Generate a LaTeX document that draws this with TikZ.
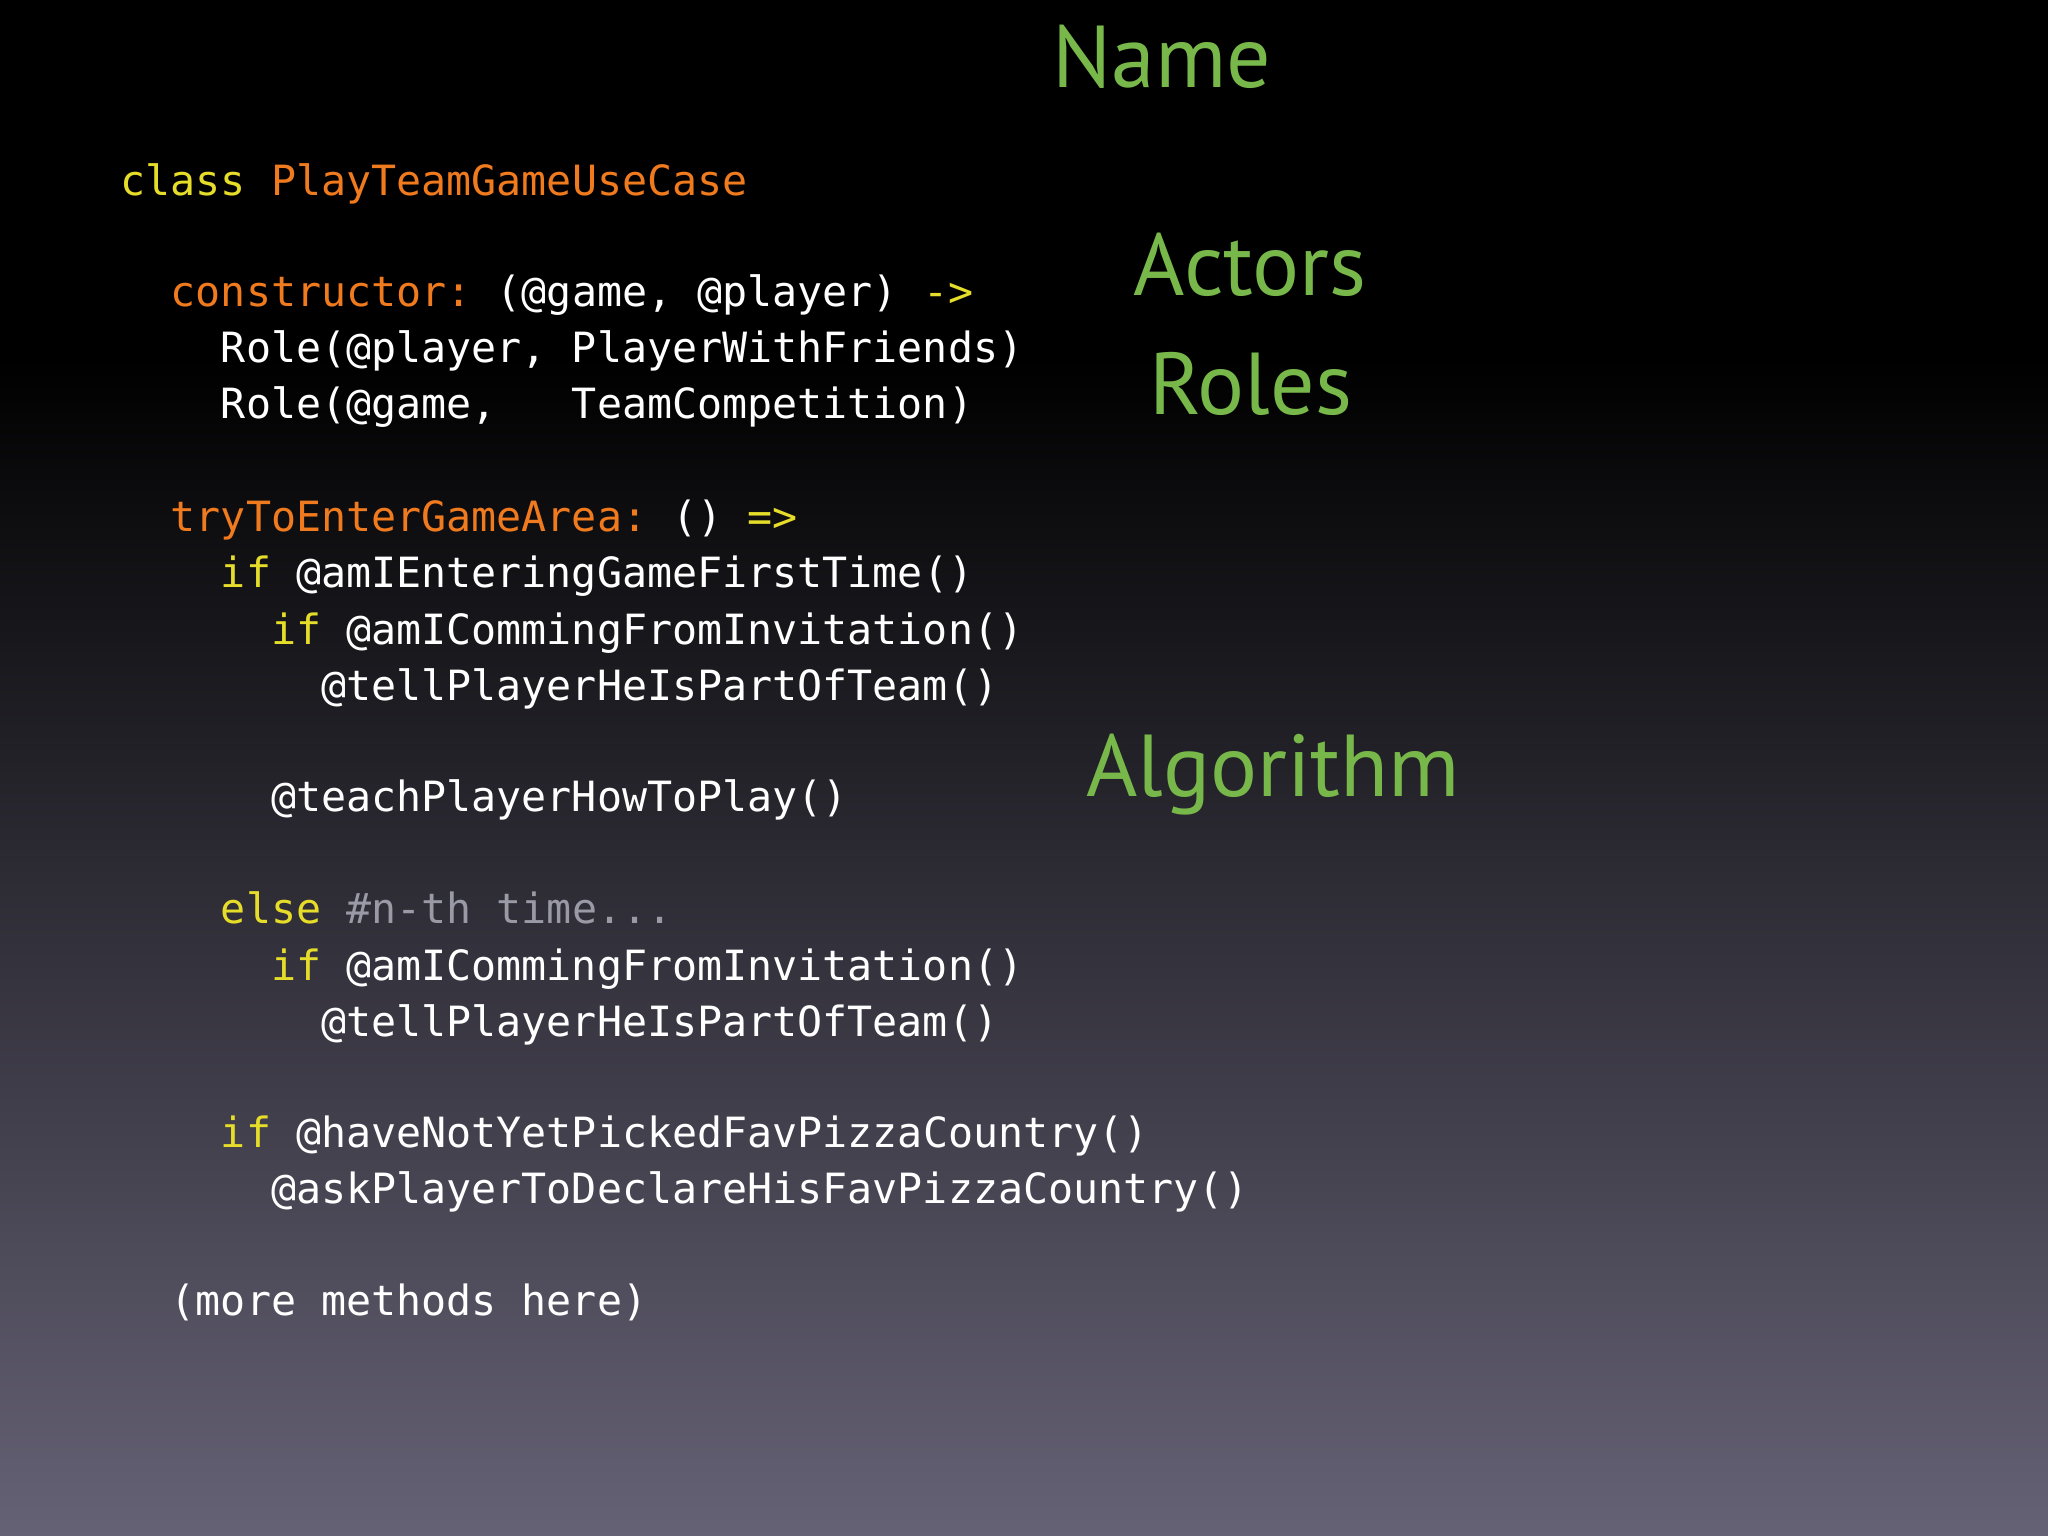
\documentclass[tikz,border=0pt]{standalone}
\usepackage{fontspec}
\setmonofont{DejaVu Sans Mono}
\newfontfamily\titlefont{PT Sans}
\definecolor{kw}{HTML}{E6DC2A}
\definecolor{org}{HTML}{F07A1E}
\definecolor{cm}{HTML}{9A9AA6}
\definecolor{grn}{HTML}{78B84A}
\definecolor{b0}{HTML}{666276}
\definecolor{b1}{HTML}{2E2F50}
\begin{document}
\begin{tikzpicture}[x=1cm,y=1cm,
  code/.style={anchor=base west,inner sep=0pt,text=white,font=\ttfamily\fontsize{11.85}{14}\selectfont},
  title/.style={anchor=base,inner sep=0pt,text=grn,font=\titlefont\fontsize{25}{30}\selectfont}]
\useasboundingbox (0,0) rectangle (20.48,-15.36);
\fill[black] (0,0.01) rectangle (20.48,-3.6);
\shade[top color=black, middle color=b1, bottom color=b0] (0,-3.59) rectangle (20.48,-15.37);
\def\c#1{1.2+#1*0.2507}
\node[code] (l1) at ({\c0},-1.96) {\textcolor{kw}{class} \textcolor{org}{PlayTeamGameUseCase}};
\node[code] (l2) at ({\c2},-3.07) {\textcolor{org}{constructor:} (@game, @player) \textcolor{kw}{->}};
\node[code] (l3) at ({\c4},-3.63) {Role(@player, PlayerWithFriends)};
\node[code] (l4) at ({\c4},-4.19) {Role(@game,~~~TeamCompetition)};
\node[code] (l5) at ({\c2},-5.32) {\textcolor{org}{tryToEnterGameArea:} () \textcolor{kw}{=>}};
\node[code] (l6) at ({\c4},-5.88) {\textcolor{kw}{if} @amIEnteringGameFirstTime()};
\node[code] (l7) at ({\c6},-6.44) {\textcolor{kw}{if} @amICommingFromInvitation()};
\node[code] (l8) at ({\c8},-7.00) {@tellPlayerHeIsPartOfTeam()};
\node[code] (l9) at ({\c6},-8.11) {@teachPlayerHowToPlay()};
\node[code] (l10) at ({\c4},-9.23) {\textcolor{kw}{else} \textcolor{cm}{\#n-th time...}};
\node[code] (l11) at ({\c6},-9.80) {\textcolor{kw}{if} @amICommingFromInvitation()};
\node[code] (l12) at ({\c8},-10.36) {@tellPlayerHeIsPartOfTeam()};
\node[code] (l13) at ({\c4},-11.47) {\textcolor{kw}{if} @haveNotYetPickedFavPizzaCountry()};
\node[code] (l14) at ({\c6},-12.03) {@askPlayerToDeclareHisFavPizzaCountry()};
\node[code] (l15) at ({\c2},-13.15) {(more methods here)};
\node[title] (t1) at (11.62,-0.875) {Name};
\node[title] (t2) at (12.50,-2.96) {Actors};
\node[title] (t3) at (12.51,-4.15) {Roles};
\node[title] (t4) at (12.73,-7.97) {Algorithm};
\end{tikzpicture}
\end{document}
